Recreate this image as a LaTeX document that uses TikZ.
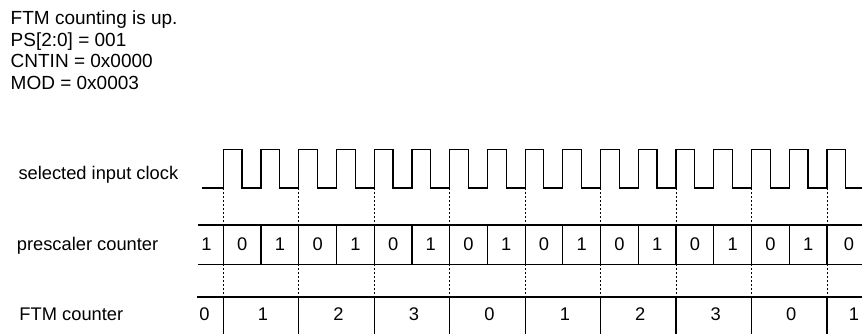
\documentclass[tikz,border=0pt]{standalone}
\usepackage{fontspec}
\setmainfont{Liberation Sans}
\begin{document}
\begin{tikzpicture}[x=1pt,y=-1pt,
  wave/.style={line width=1.2pt, line join=miter},
  rowline/.style={line width=1.2pt},
  guide/.style={line width=0.8pt, dash pattern=on 2pt off 2pt},
  toptxt/.style={font=\fontsize{19}{22}\selectfont, inner sep=0pt, anchor=base west},
  lbl/.style={font=\fontsize{18.3}{22}\selectfont, inner sep=0pt, anchor=base west},
  val/.style={font=\fontsize{18.3}{22}\selectfont, inner sep=0pt, anchor=base}]
\useasboundingbox (0,0) rectangle (862,334);
% header text
\node[toptxt] (t1) at (10.5,25) {FTM counting is up.};
\node[toptxt] (t2) at (10.5,46.5) {PS[2:0] = 001};
\node[toptxt] (t3) at (10.5,68) {CNTIN = 0x0000};
\node[toptxt] (t4) at (10.5,89.5) {MOD = 0x0003};
% row labels
\node[lbl] (lclk) at (18.3,179) {selected input clock};
\node[lbl] (lpre) at (16.7,250) {prescaler counter};
\node[lbl] (lftm) at (19.3,320) {FTM counter};
% clock waveform
\draw[wave] (202.3,188) \foreach \k in {0,...,16} {
  -- ({223.3+37.73*\k},188) -- ({223.3+37.73*\k},149.5)
  -- ({242+37.73*\k},149.5) -- ({242+37.73*\k},188) } -- (862,188);
% dashed guides
\foreach \j in {0,...,8}
  \draw[guide] ({223.3+75.46*\j},188) -- ({223.3+75.46*\j},297);
% prescaler row
\draw[rowline] (198,225) -- (862,225);
\draw[rowline] (198,264.3) -- (862,264.3);
\foreach \k in {0,...,16}
  \draw[rowline] ({223.3+37.73*\k},225) -- ({223.3+37.73*\k},264.3);
\node[val] (pfirst) at (206.5,250) {1};
\foreach \k in {0,...,15} {
  \pgfmathtruncatemacro\v{mod(\k,2)==0 ? 0 : 1}
  \node[val] (p\k) at ({223.3+37.73*(\k+0.5)},250) {\v};
}
\node[val] (plast) at (849,250) {0};
% FTM counter row
\draw[rowline] (197,297) -- (862,297);
\foreach \j in {0,...,8}
  \draw[rowline] ({223.3+75.46*\j},297) -- ({223.3+75.46*\j},334);
\node[val] (ffirst) at (204.5,320) {0};
\foreach \j in {0,...,7} {
  \pgfmathtruncatemacro\v{mod(\j+1,4)}
  \node[val] (f\j) at ({223.3+75.46*(\j+0.5)+2},320) {\v};
}
\node[val] (flast) at (854,320) {1};
\end{tikzpicture}
\end{document}
